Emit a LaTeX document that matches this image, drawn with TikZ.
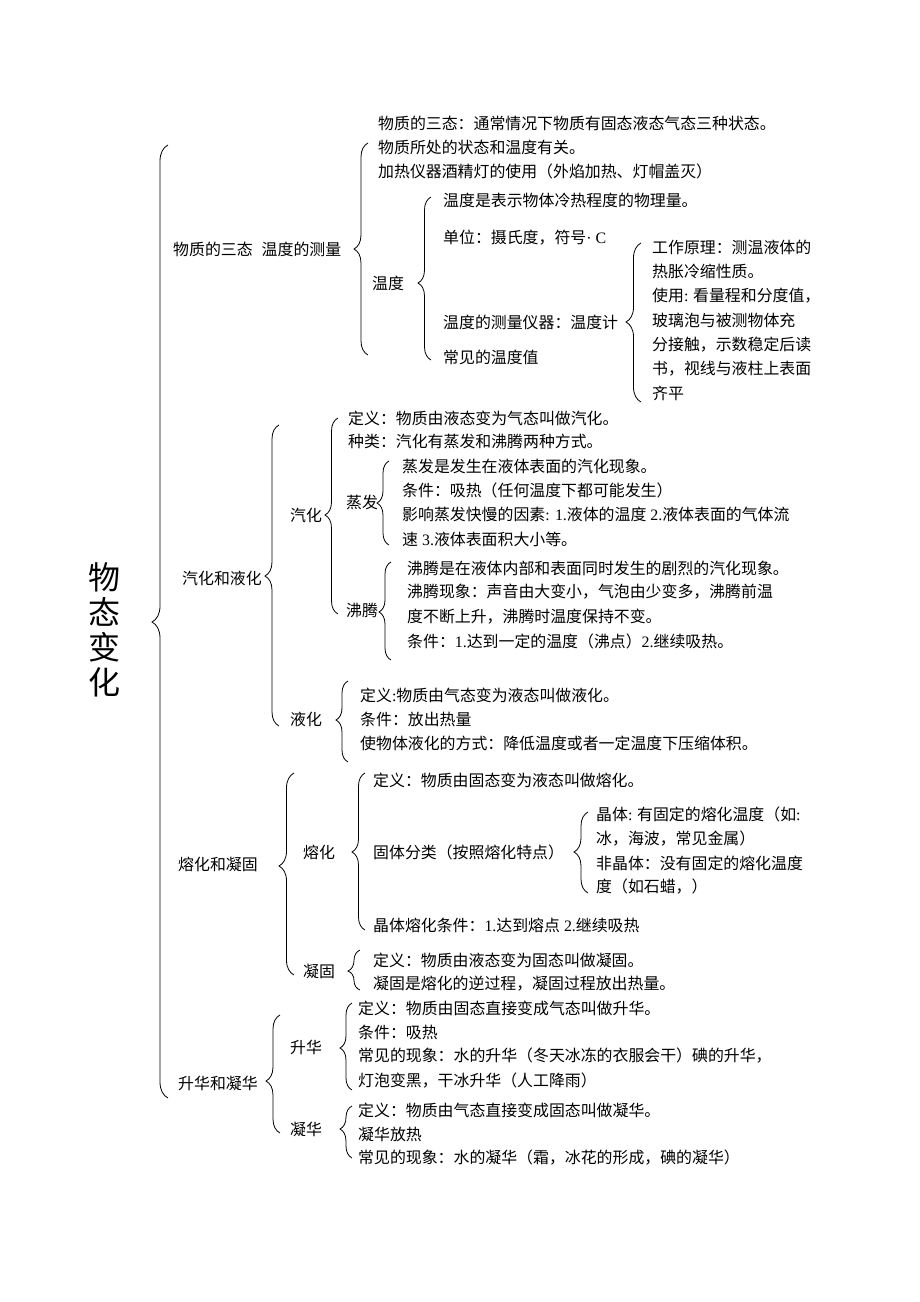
\documentclass[tikz,border=0pt]{standalone}
\usepackage{fontspec}
\setmainfont{Noto Sans CJK SC}
\newfontfamily\latfont{Liberation Serif}
\newcommand\lat[1]{{\latfont #1}}
\usetikzlibrary{decorations.pathreplacing}
\tikzset{
  txt/.style={anchor=west, inner sep=0pt, font=\fontsize{15.9}{18}\selectfont},
  ttl/.style={inner sep=0pt, align=center, font=\fontsize{32}{35}\selectfont},
}
\newcommand\mybrc[6]{%
  \coordinate (#1t) at (#2,#3);
  \coordinate (#1b) at (#2,#5);
  \pgfmathsetmacro\asp{(#5-#4)/(#5-#3)}%
  \draw[line width=0.8pt, decorate, decoration={brace, amplitude=#6pt, aspect=\asp}] (#1b) -- (#1t);
}
\begin{document}
\begin{tikzpicture}[x=1pt,y=-1pt]
\useasboundingbox[fill=white] (0,0) rectangle (920,1302);
% title
\node[ttl] (title) at (104,630) {物\\态\\变\\化};
\mybrc{B0}{168}{145}{622}{1098}{16}
% section 1
\node[txt] (L1) at (173,249) {物质的三态\hspace{9pt}温度的测量};
\mybrc{B1}{368}{143}{249}{355}{14}
\node[txt] (a1) at (378,123) {物质的三态：通常情况下物质有固态液态气态三种状态。};
\node[txt] (a2) at (378,147) {物质所处的状态和温度有关。};
\node[txt] (a3) at (378,171) {加热仪器酒精灯的使用（外焰加热、灯帽盖灭）};
\node[txt] (wd) at (372,283) {温度};
\mybrc{B2}{431}{197}{283}{360}{13}
\node[txt] (b1) at (443,200) {温度是表示物体冷热程度的物理量。};
\node[txt] (b2) at (443,238) {单位：摄氏度，符号\lat{· C}};
\node[txt] (b3) at (443,322) {温度的测量仪器：温度计};
\node[txt] (b4) at (443,357) {常见的温度值};
\mybrc{B3}{641}{243}{322}{402}{15}
\node[txt] (c1) at (652,247) {工作原理：测温液体的};
\node[txt] (c2) at (652,271) {热胀冷缩性质。};
\node[txt] (c3) at (652,296) {使用\lat{:} 看量程和分度值，};
\node[txt] (c4) at (652,320) {玻璃泡与被测物体充};
\node[txt] (c5) at (652,345) {分接触，示数稳定后读};
\node[txt] (c6) at (652,369) {书，视线与液柱上表面};
\node[txt] (c7) at (652,393) {齐平};
% section 2
\node[txt] (L2) at (182,578) {汽化和液化};
\mybrc{B4}{279}{425}{576}{726}{14}
\node[txt] (qh) at (290,515) {汽化};
\mybrc{B5}{338}{418}{515}{614}{13}
\node[txt] (d1) at (348,418) {定义：物质由液态变为气态叫做汽化。};
\node[txt] (d2) at (348,441) {种类：汽化有蒸发和沸腾两种方式。};
\node[txt] (zf) at (346,502) {蒸发};
\mybrc{B6}{389}{461}{503}{545}{12}
\node[txt] (e1) at (402,466) {蒸发是发生在液体表面的汽化现象。};
\node[txt] (e2) at (402,490) {条件：吸热（任何温度下都可能发生）};
\node[txt] (e3) at (402,514) {影响蒸发快慢的因素\lat{: 1.}液体的温度\lat{ 2.}液体表面的气体流};
\node[txt] (e4) at (402,539) {速\lat{ 3.}液体表面积大小等。};
\node[txt] (ft) at (346,610) {沸腾};
\mybrc{B7}{391}{562}{612}{660}{12}
\node[txt] (f1) at (407,568) {沸腾是在液体内部和表面同时发生的剧烈的汽化现象。};
\node[txt] (f2) at (407,592) {沸腾现象：声音由大变小，气泡由少变多，沸腾前温};
\node[txt] (f3) at (407,617) {度不断上升，沸腾时温度保持不变。};
\node[txt] (f4) at (407,641) {条件：\lat{1.}达到一定的温度（沸点）\lat{2.}继续吸热。};
\node[txt] (yh) at (290,719) {液化};
\mybrc{B8}{348}{681}{720}{762}{12}
\node[txt] (g1) at (360,695) {定义\lat{:}物质由气态变为液态叫做液化。};
\node[txt] (g2) at (360,719) {条件：放出热量};
\node[txt] (g3) at (360,743) {使物体液化的方式：降低温度或者一定温度下压缩体积。};
% section 3
\node[txt] (L3) at (178,864) {熔化和凝固};
\mybrc{B9}{294}{773}{866}{975}{15}
\node[txt] (rh) at (303,852) {熔化};
\mybrc{B10}{365}{773}{852}{930}{13}
\node[txt] (h1) at (373,780) {定义：物质由固态变为液态叫做熔化。};
\node[txt] (h2) at (373,852) {固体分类（按照熔化特点）};
\node[txt] (h3) at (373,925) {晶体熔化条件：\lat{1.}达到熔点\lat{ 2.}继续吸热};
\mybrc{B12}{588}{812}{852}{893}{14}
\node[txt] (i1) at (596,814) {晶体\lat{:} 有固定的熔化温度（如\lat{:}};
\node[txt] (i2) at (596,839) {冰，海波，常见金属）};
\node[txt] (i3) at (596,863) {非晶体：没有固定的熔化温度};
\node[txt] (i4) at (596,887) {度（如石蜡，）};
\node[txt] (ng) at (303,971) {凝固};
\mybrc{B11}{360}{950}{971}{990}{12}
\node[txt] (j1) at (373,960) {定义：物质由液态变为固态叫做凝固。};
\node[txt] (j2) at (373,984) {凝固是熔化的逆过程，凝固过程放出热量。};
% section 4
\node[txt] (L4) at (178,1083) {升华和凝华};
\mybrc{B13}{280}{1015}{1081}{1133}{14}
\node[txt] (sh) at (290,1047) {升华};
\mybrc{B14}{352}{1003}{1048}{1090}{12}
\node[txt] (k1) at (358,1008) {定义：物质由固态直接变成气态叫做升华。};
\node[txt] (k2) at (358,1032) {条件：吸热};
\node[txt] (k3) at (358,1056) {常见的现象：水的升华（冬天冰冻的衣服会干）碘的升华，};
\node[txt] (k4) at (358,1081) {灯泡变黑，干冰升华（人工降雨）};
\node[txt] (nh) at (290,1129) {凝华};
\mybrc{B15}{352}{1106}{1129}{1158}{12}
\node[txt] (m1) at (358,1110) {定义：物质由气态直接变成固态叫做凝华。};
\node[txt] (m2) at (358,1134) {凝华放热};
\node[txt] (m3) at (358,1158) {常见的现象：水的凝华（霜，冰花的形成，碘的凝华）};
\end{tikzpicture}
\end{document}
